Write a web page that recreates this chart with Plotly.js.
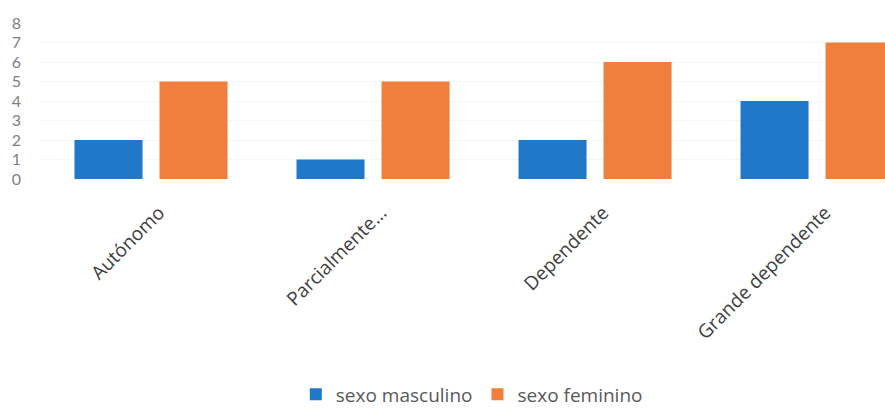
<!DOCTYPE html>
<html>
<head>
<meta charset="utf-8">
<script src="https://cdn.plot.ly/plotly-3.0.1.min.js"></script>
<style>
  html, body { margin: 0; padding: 0; background: #fff; }
  #chart { width: 885px; height: 410px; }
</style>
</head>
<body>
<div id="chart"></div>
<script>
// Grau de dependência por sexo
const categories = ["Autónomo", "Parcialmente...", "Dependente", "Grande dependente"];
const masculino = [2, 1, 2, 4];
const feminino = [5, 5, 6, 7];
const yTicks = [0, 1, 2, 3, 4, 5, 6, 7, 8];

const traces = [
  {
    type: "bar",
    name: "sexo masculino",
    x: categories,
    y: masculino,
    marker: { color: "#1f78c8" }
  },
  {
    type: "bar",
    name: "sexo feminino",
    x: categories,
    y: feminino,
    marker: { color: "#ef7f3b" }
  }
];

const layout = {
  width: 885,
  height: 410,
  margin: { l: 40, r: 0, t: 23, b: 231, autoexpand: false },
  paper_bgcolor: "#ffffff",
  plot_bgcolor: "#ffffff",
  barmode: "group",
  bargap: 0.234,
  bargroupgap: 0.2,
  font: { family: "Open Sans, sans-serif", color: "#404040" },
  xaxis: {
    type: "category",
    range: [-0.5, 3.306],
    tickangle: -45,
    showline: false,
    showgrid: false,
    ticks: "",
    ticklabelstandoff: 18,
    ticklabelshift: 8,
    tickfont: { size: 19, color: "#404040" },
    fixedrange: true
  },
  yaxis: {
    range: [0, 8],
    tickvals: yTicks,
    ticktext: yTicks.map(String),
    showgrid: true,
    gridcolor: "#f6f6f6",
    zeroline: false,
    showline: false,
    ticks: "",
    ticklabelstandoff: 18,
    tickfont: { family: "Lato, sans-serif", size: 16, color: "#808080" },
    fixedrange: true
  },
  showlegend: true,
  legend: {
    orientation: "h",
    x: 0.511,
    xanchor: "center",
    yref: "container",
    y: 0.038,
    yanchor: "middle",
    font: { size: 19, color: "#595959" },
    itemwidth: 30,
    tracegroupgap: 0
  }
};

Plotly.newPlot("chart", traces, layout, { displayModeBar: false, staticPlot: true });
</script>
</body>
</html>
